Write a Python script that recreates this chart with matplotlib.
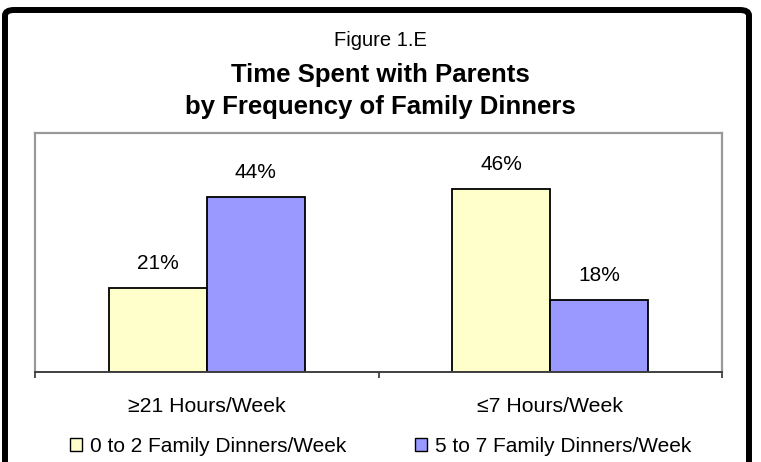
import matplotlib.pyplot as plt
from matplotlib.patches import Patch, FancyBboxPatch
import numpy as np

# ====================== fonts ======================
plt.rcParams['font.family'] = ['Liberation Sans', 'DejaVu Sans']

# ====================== data ======================
categories = ['≥21 Hours/Week', '≤7 Hours/Week']
series_names = ['0 to 2 Family Dinners/Week', '5 to 7 Family Dinners/Week']
low_dinners = [21, 46]    # 0-2 dinners per week (%)
high_dinners = [44, 18]   # 5-7 dinners per week (%)
colors = ['#FFFFCC', '#9999FF']

fig = plt.figure(figsize=(7.61, 4.62), dpi=100)

# outer black rounded frame (bottom edge runs off the picture)
frame = FancyBboxPatch((5 / 761, -20 / 462), 744 / 761, (452 + 20) / 462,
                       boxstyle='round,pad=0,rounding_size=0.012',
                       transform=fig.transFigure, fill=False,
                       edgecolor='black', linewidth=4.3, zorder=0)
fig.patches.append(frame)

# titles
fig.text(0.5, 1 - 46 / 462, 'Figure 1.E', ha='center', va='baseline', fontsize=14.5)
fig.text(0.5, 1 - 82 / 462, 'Time Spent with Parents', ha='center', va='baseline',
         fontsize=18.5, fontweight='bold')
fig.text(0.5, 1 - 114 / 462, 'by Frequency of Family Dinners', ha='center', va='baseline',
         fontsize=18.5, fontweight='bold')

# ====================== plot area ======================
ax = fig.add_axes([35 / 761, (462 - 372) / 462, 687 / 761, 239 / 462])
x = np.arange(len(categories))
w = 0.285
off = 0.1425
b1 = ax.bar(x - off, low_dinners, w, color=colors[0], edgecolor='black', linewidth=1.3)
b2 = ax.bar(x + off, high_dinners, w, color=colors[1], edgecolor='black', linewidth=1.3)

for bars, vals in ((b1, low_dinners), (b2, high_dinners)):
    for rect, v in zip(bars, vals):
        ax.annotate(f'{v}%', (rect.get_x() + rect.get_width() / 2, v),
                    xytext=(0, 13.7), textcoords='offset points',
                    ha='center', va='baseline', fontsize=15)

ax.set_xlim(-0.5, 1.5)
ax.set_ylim(0, 60)
ax.set_yticks([])
ax.set_xticks(x)
ax.set_xticklabels(categories, fontsize=15.3)
ax.tick_params(axis='x', which='major', length=0, pad=18)
ax.set_xticks([-0.5, 0.5, 1.5], minor=True)
ax.tick_params(axis='x', which='minor', length=4, width=1.3, direction='out', color='#404040')

for s in ('left', 'top', 'right'):
    ax.spines[s].set_color('#999999')
    ax.spines[s].set_linewidth(1.6)
ax.spines['bottom'].set_color('#404040')
ax.spines['bottom'].set_linewidth(1.4)

# legend
handles = [Patch(facecolor=c, edgecolor='black', linewidth=1.0) for c in colors]
fig.legend(handles, series_names, loc='center', bbox_to_anchor=(0.5, 1 - 446.6 / 462),
           ncol=2, frameon=False, fontsize=15, handlelength=0.58, handleheight=0.58,
           handletextpad=0.38, columnspacing=3.3, borderpad=0, borderaxespad=0)

fig.savefig('out.png', dpi=100)
